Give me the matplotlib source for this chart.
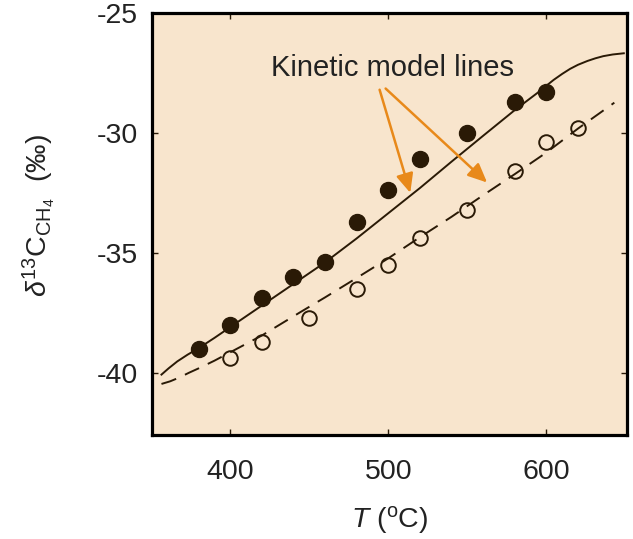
import matplotlib
matplotlib.use("Agg")
import matplotlib.pyplot as plt

# Measured methane carbon isotope data
t_filled = [380, 400, 420, 440, 460, 480, 500, 520, 550, 580, 600]
d13c_filled = [-39.0, -38.0, -36.9, -36.0, -35.4, -33.7, -32.4, -31.1, -30.0, -28.7, -28.3]

t_open = [400, 420, 450, 480, 500, 520, 550, 580, 600, 620]
d13c_open = [-39.4, -38.7, -37.7, -36.5, -35.5, -34.4, -33.2, -31.6, -30.4, -29.8]

# Kinetic model curves
t_model_solid = [356.5, 361, 366.5, 373, 380, 390, 400, 420, 440, 460, 480, 500, 520,
                 540, 560, 580, 594, 604.6, 610, 615, 620, 626, 631, 636, 642, 649]
d13c_model_solid = [-40.08, -39.82, -39.53, -39.25, -38.98, -38.55, -38.1, -37.2,
                    -36.3, -35.4, -34.4, -33.35, -32.3, -31.2, -30.12, -29.05, -28.35,
                    -27.79, -27.54, -27.33, -27.16, -27.0, -26.89, -26.8, -26.73,
                    -26.68]

t_model_dashed = [356.5, 362, 367.5, 374, 380, 390, 400, 420, 445, 460, 480, 500, 520,
                  540, 560, 580, 600, 620, 643]
d13c_model_dashed = [-40.47, -40.36, -40.21, -40.0, -39.82, -39.5, -39.15, -38.45,
                     -37.45, -36.86, -36.05, -35.23, -34.35, -33.5, -32.6, -31.72,
                     -30.82, -29.82, -28.74]

x_ticks = [400, 500, 600]
y_ticks = [-40, -35, -30, -25]

plt.rcParams["font.family"] = ["Liberation Sans", "DejaVu Sans"]
plt.rcParams["mathtext.fontset"] = "custom"
plt.rcParams["mathtext.rm"] = "Liberation Sans"
plt.rcParams["mathtext.it"] = "Liberation Sans:italic"
plt.rcParams["axes.unicode_minus"] = False

ink = "#2a1a06"
text_col = "#222222"
orange = "#e8891a"

fig = plt.figure(figsize=(6.33, 5.39), dpi=100)
ax = fig.add_axes([0.2401, 0.1929, 0.7504, 0.783])
ax.set_facecolor("#f8e5cd")

ax.plot(t_model_solid, d13c_model_solid, color=ink, lw=1.4, zorder=2,
        solid_joinstyle="round")
ax.plot(t_model_dashed, d13c_model_dashed, color=ink, lw=1.4, dashes=(8, 5), zorder=2)

ax.plot(t_filled, d13c_filled, "o", color=ink, ms=11.5, mec=ink, zorder=3)
ax.plot(t_open, d13c_open, "o", mfc="none", mec=ink, ms=10.5, mew=1.4, zorder=3)

ax.set_xlim(350.5, 651)
ax.set_ylim(-42.6, -25)
ax.set_xticks(x_ticks)
ax.set_yticks(y_ticks)

for s in ax.spines.values():
    s.set_linewidth(2.3)
    s.set_color("black")

ax.tick_params(direction="in", length=4, width=1, top=True, right=True,
               labelsize=20.5, labelcolor=text_col, color=ink)
ax.tick_params(axis="x", pad=17)
ax.tick_params(axis="y", pad=10)

ax.set_xlabel(r"$T$ ($^{\rm o}$C)", fontsize=20.5, color=text_col, labelpad=14)
ax.set_ylabel(r"$\delta^{13}\mathrm{C}_{\mathrm{CH}_4}$  (‰)", fontsize=20.5,
              color=text_col)
ax.yaxis.set_label_coords(-0.2, 0.52)

ax.text(502.5, -27.3, "Kinetic model lines", fontsize=21, color=text_col,
        ha="center", va="center")

arrow_kw = dict(arrowstyle="-|>,head_length=1.15,head_width=0.52", color=orange,
                lw=1.8, shrinkA=0, shrinkB=0)
ax.annotate("", xy=(513.9, -32.5), xytext=(494.5, -28.2), arrowprops=arrow_kw)
ax.annotate("", xy=(562.5, -32.07), xytext=(498.3, -28.15), arrowprops=arrow_kw)

fig.savefig("out.png", dpi=100)
